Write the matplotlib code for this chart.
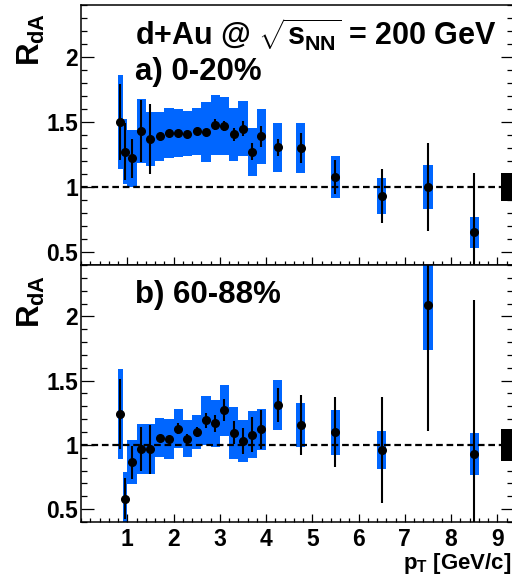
import matplotlib
matplotlib.use('Agg')
import matplotlib.pyplot as plt
from matplotlib.ticker import MultipleLocator, FixedLocator, FixedFormatter

plt.rcParams['font.family'] = ['Liberation Sans', 'DejaVu Sans']
plt.rcParams['font.weight'] = 'bold'
plt.rcParams['mathtext.fontset'] = 'custom'
plt.rcParams['mathtext.rm'] = 'Liberation Sans:bold'
plt.rcParams['mathtext.it'] = 'Liberation Sans:bold'
plt.rcParams['mathtext.bf'] = 'Liberation Sans:bold'
plt.rcParams['mathtext.sf'] = 'Liberation Sans:bold'

# ---------------- data ----------------
pt = [0.85, 0.95, 1.1, 1.3, 1.5, 1.7, 1.9, 2.1, 2.3, 2.5, 2.7, 2.9, 3.1, 3.3,
      3.5, 3.7, 3.9, 4.25, 4.75, 5.5, 6.5, 7.5, 8.5]

# a) 0-20%
rda_a = [1.50, 1.27, 1.22, 1.43, 1.37, 1.39, 1.415, 1.415, 1.41, 1.43, 1.425,
         1.48, 1.47, 1.405, 1.45, 1.27, 1.39, 1.305, 1.30, 1.077, 0.93, 1.00, 0.65]
stat_a = [0.29, 0.22, 0.15, 0.24, 0.27, 0.02, 0.02, 0.02, 0.02, 0.02, 0.02,
          0.04, 0.04, 0.05, 0.06, 0.065, 0.08, 0.065, 0.115, 0.13, 0.21, 0.34, 0.46]
sys_a = [0.36, 0.25, 0.22, 0.245, 0.21, 0.19, 0.19, 0.185, 0.175, 0.18, 0.23,
         0.23, 0.22, 0.205, 0.215, 0.185, 0.21, 0.19, 0.19, 0.165, 0.14, 0.17, 0.12]

# b) 60-88%
rda_b = [1.24, 0.58, 0.865, 0.97, 0.966, 1.057, 1.047, 1.127, 1.047, 1.10, 1.19,
         1.167, 1.27, 1.094, 1.03, 1.08, 1.12, 1.31, 1.156, 1.10, 0.96, 2.086, 0.93]
stat_b = [0.275, 0.16, 0.13, 0.17, 0.19, 0.02, 0.02, 0.04, 0.04, 0.04, 0.055,
          0.065, 0.085, 0.09, 0.10, 0.135, 0.15, 0.13, 0.235, 0.27, 0.41, 0.975, 1.2]
sys_b = [0.35, 0.21, 0.17, 0.195, 0.195, 0.155, 0.155, 0.155, 0.145, 0.135, 0.19,
         0.185, 0.2, 0.2, 0.165, 0.185, 0.16, 0.195, 0.17, 0.175, 0.15, 0.35, 0.165]

norm_a = 0.11
norm_b = 0.125

yticks = [0.5, 1.0, 1.5, 2.0]
ytick_labels = ['0.5', '1', '1.5', '2']
xticks = [1, 2, 3, 4, 5, 6, 7, 8, 9]
xtick_labels = ['1', '2', '3', '4', '5', '6', '7', '8', '9']

# ---------------- figure ----------------
W, H = 512, 579
fig = plt.figure(figsize=(W / 100, H / 100), dpi=100)
L, R = 81, 513


def rect(top, bottom):
    return [L / W, 1 - bottom / H, (R - L) / W, (bottom - top) / H]


ax_a = fig.add_axes(rect(5, 265))
ax_b = fig.add_axes(rect(265, 522))

BLUE = '#0066ff'
XMAX = 9.34
NORM_X0 = 9.09


def draw(ax, y, stat, sys, norm):
    widths = [0.1 if x < 1.0 else 0.2 for x in pt]
    ax.bar(pt, [2 * s for s in sys], bottom=[v - s for v, s in zip(y, sys)],
           width=widths, color=BLUE, linewidth=0, zorder=1)
    ax.axhline(1.0, color='black', lw=1.6, ls=(0, (3, 1.7)), zorder=2)
    ax.errorbar(pt, y, yerr=stat, fmt='o', color='black', ms=5.5,
                elinewidth=1.5, capsize=0, zorder=3)
    ax.bar([NORM_X0], [2 * norm], bottom=[1 - norm], width=XMAX - NORM_X0 + 0.1,
           align='edge', color='black', linewidth=0, zorder=4)
    ax.set_xlim(0, XMAX)
    ax.set_ylim(0.4, 2.4)
    ax.yaxis.set_major_locator(FixedLocator(yticks))
    ax.yaxis.set_major_formatter(FixedFormatter(ytick_labels))
    ax.yaxis.set_minor_locator(MultipleLocator(0.1))
    ax.xaxis.set_major_locator(FixedLocator(xticks))
    ax.xaxis.set_major_formatter(FixedFormatter(xtick_labels))
    ax.xaxis.set_minor_locator(MultipleLocator(0.2))
    ax.tick_params(axis='y', which='major', direction='in', length=9, width=0.9,
                   left=True, right=True, labelsize=16.5, pad=2)
    ax.tick_params(axis='y', which='minor', direction='in', length=4.5, width=0.9,
                   left=True, right=True)
    ax.tick_params(axis='x', which='major', direction='in', length=6, width=0.9,
                   top=False, bottom=True, labelsize=16.5, pad=4)
    ax.tick_params(axis='x', which='minor', direction='in', length=3, width=0.9,
                   top=False, bottom=True)
    for sp in ax.spines.values():
        sp.set_linewidth(1.1)


draw(ax_a, rda_a, stat_a, sys_a, norm_a)
draw(ax_b, rda_b, stat_b, sys_b, norm_b)
ax_a.tick_params(axis='x', labelbottom=False)

TS = 22
fig.text(135 / W, 1 - 46 / H, r'd+Au @ $\sqrt{s_{NN}}$ = 200 GeV', fontsize=TS,
         fontweight='bold', ha='left', va='baseline')
fig.text(135 / W, 1 - 80 / H, 'a) 0-20%', fontsize=22.5, fontweight='bold',
         ha='left', va='baseline')
fig.text(135 / W, 1 - 303 / H, 'b) 60-88%', fontsize=22.5, fontweight='bold',
         ha='left', va='baseline')
fig.text(16 / W, 1 - 13 / H, r'$R_{dA}$', rotation=90, fontsize=22.5,
         ha='left', va='top')
fig.text(16 / W, 1 - 275 / H, r'$R_{dA}$', rotation=90, fontsize=22.5,
         ha='left', va='top')
fig.text(511 / W, 1 - 569 / H, r'$p_{T}$ [GeV/c]', fontsize=16,
         fontweight='bold', ha='right', va='baseline')

fig.savefig('out.png', dpi=100)
